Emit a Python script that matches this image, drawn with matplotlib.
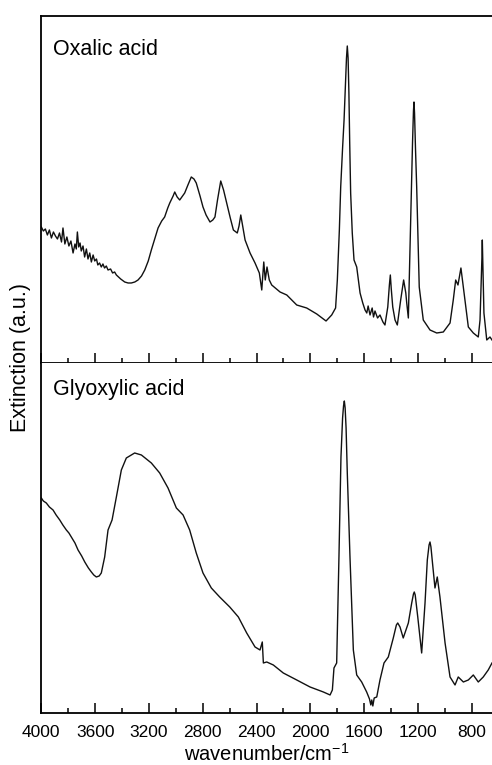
import numpy as np
import matplotlib
matplotlib.use("Agg")
import matplotlib.pyplot as plt
from matplotlib.ticker import MultipleLocator

# spectra (wavenumber in cm-1, extinction in a.u.)
oxalic_wn = [4000, 3985, 3970, 3955, 3940, 3925, 3910, 3895, 3880, 3865, 3850, 3839, 3825, 3810,
             3795, 3780, 3764, 3750, 3740, 3732, 3722, 3712, 3703, 3690, 3678, 3665, 3653, 3640,
             3628, 3615, 3603, 3590, 3580, 3567, 3554, 3542, 3530, 3517, 3504, 3485, 3470, 3455,
             3442, 3410, 3380, 3355, 3331, 3305,
             3281, 3255, 3231, 3205, 3182, 3155, 3132, 3105, 3083, 3060, 3045, 3020, 3008, 2990,
             2971, 2950, 2934, 2910, 2885, 2865, 2848, 2820, 2798, 2775, 2746, 2725, 2709, 2690,
             2666, 2645, 2622, 2595, 2572, 2543, 2530, 2517, 2500, 2485, 2448, 2411, 2379, 2361,
             2346, 2335, 2322, 2305, 2287, 2225, 2175, 2101, 2027, 1952, 1883, 1841, 1812, 1799,
             1784, 1774, 1760, 1749, 1738, 1731, 1725, 1719, 1713, 1707, 1700, 1688, 1675, 1655,
             1630, 1610,
             1593, 1580, 1570, 1556, 1540, 1530, 1519, 1500, 1482, 1460, 1445, 1424, 1412, 1405,
             1398, 1387, 1370, 1353, 1328, 1306, 1290, 1283, 1271, 1254, 1240, 1233, 1229, 1225,
             1218, 1209, 1190, 1160, 1110,
             1060, 1011, 961, 937, 919, 902, 880, 857, 825, 788, 751, 738, 724, 721, 717, 709, 688,
             664, 649]
oxalic_ext = [1.36, 1.32, 1.34, 1.28, 1.33, 1.25, 1.31, 1.27, 1.24, 1.30, 1.21, 1.35, 1.19, 1.26,
              1.17, 1.22, 1.10, 1.19, 1.14, 1.31, 1.16, 1.20, 1.12, 1.17, 1.06, 1.14, 1.04, 1.10,
              1.01, 1.08, 1.02, 1.04, 0.98, 1.00, 0.96, 0.99, 0.95, 0.97, 0.93, 0.94, 0.90, 0.91,
              0.88, 0.84, 0.81, 0.80, 0.80, 0.81,
              0.83, 0.87, 0.93, 1.02, 1.13, 1.25, 1.35, 1.42, 1.46, 1.55, 1.60, 1.67, 1.71, 1.66,
              1.63, 1.67, 1.70, 1.78, 1.86, 1.84, 1.80, 1.67, 1.56, 1.48, 1.41, 1.43, 1.46, 1.63,
              1.82, 1.73, 1.60, 1.45, 1.33, 1.30, 1.37, 1.48, 1.35, 1.23, 1.10, 1.00, 0.90, 0.73,
              1.01, 0.83, 0.96, 0.83, 0.78, 0.71, 0.68, 0.58, 0.55, 0.49, 0.42, 0.48, 0.55, 0.83,
              1.33, 1.76, 2.15, 2.43, 2.80, 3.05, 3.17, 3.05, 2.70, 2.20, 1.70, 1.30, 1.03, 0.96,
              0.70, 0.60,
              0.53, 0.50, 0.57, 0.48, 0.55, 0.46, 0.52, 0.45, 0.48, 0.41, 0.38, 0.56, 0.78, 0.88,
              0.74, 0.56, 0.43, 0.38, 0.63, 0.83, 0.70, 0.60, 0.45, 1.43, 2.20, 2.52, 2.61, 2.50,
              2.15, 1.76, 0.76, 0.43, 0.33,
              0.30, 0.31, 0.40, 0.63, 0.83, 0.78, 0.95, 0.70, 0.36, 0.30, 0.26, 0.43, 1.05, 1.23,
              1.00, 0.50, 0.23, 0.26, 0.23]

glyox_wn = [4000, 3985, 3963, 3940, 3913, 3890, 3863, 3840, 3814, 3795, 3777, 3750, 3727, 3700,
            3677, 3650, 3628, 3610, 3591, 3570, 3554, 3529, 3504, 3474, 3442, 3405, 3368, 3306,
            3256, 3182, 3120, 3058, 2996, 2946, 2897, 2848, 2798, 2736, 2674, 2599, 2535, 2473,
            2411, 2374, 2357, 2349, 2324, 2275, 2201, 2101, 2002, 1903, 1853, 1836, 1824, 1804,
            1787, 1772, 1760, 1753, 1747, 1741, 1734, 1725, 1705, 1680, 1655, 1618, 1581, 1560,
            1550, 1543, 1535, 1525, 1506, 1482,
            1452, 1420, 1383, 1360, 1350, 1333, 1309, 1271, 1246, 1233, 1227, 1220, 1201, 1172,
            1147, 1130, 1117, 1110, 1103, 1090, 1073, 1056, 1036, 998, 961, 924, 900, 862, 825,
            788, 751, 714, 677, 649]
glyox_ext = [2.15, 2.12, 2.10, 2.06, 2.03, 1.98, 1.93, 1.88, 1.83, 1.80, 1.76, 1.70, 1.63, 1.57,
             1.51, 1.45, 1.41, 1.38, 1.36, 1.37, 1.40, 1.56, 1.83, 1.93, 2.16, 2.43, 2.55, 2.60,
             2.58, 2.50, 2.40, 2.25, 2.05, 1.98, 1.83, 1.60, 1.40, 1.25, 1.16, 1.06, 0.96, 0.80,
             0.66, 0.63, 0.71, 0.50, 0.51, 0.48, 0.40, 0.33, 0.26, 0.21, 0.18, 0.23, 0.45, 0.50,
             1.56, 2.56, 2.95, 3.07, 3.12, 3.05, 2.85, 2.40, 1.56, 0.63, 0.38, 0.31, 0.21, 0.14,
             0.08, 0.13, 0.07, 0.15, 0.16, 0.33,
             0.50, 0.56, 0.75, 0.88, 0.90, 0.86, 0.75, 0.90, 1.10, 1.19, 1.21, 1.18, 0.96, 0.60,
             1.10, 1.53, 1.68, 1.71, 1.66, 1.48, 1.25, 1.36, 1.16, 0.70, 0.36, 0.28, 0.36, 0.31,
             0.33, 0.38, 0.31, 0.36, 0.43, 0.50]

plt.rcParams['font.family'] = ['Liberation Sans', 'DejaVu Sans']
plt.rcParams['mathtext.default'] = 'regular'

fig = plt.figure(figsize=(4.92, 7.65), dpi=100)
ax1 = fig.add_axes([0.084, 0.5255, 0.916, 0.4536])
ax2 = fig.add_axes([0.084, 0.068, 0.916, 0.4575])

panels = [(ax1, oxalic_wn, oxalic_ext, 'Oxalic acid', 3.47, 0.888),
          (ax2, glyox_wn, glyox_ext, 'Glyoxylic acid', 3.50, 0.909)]

for ax, wn, ext, name, ytop, ty in panels:
    ax.plot(wn, ext, color='#111111', lw=1.0)
    ax.set_xlim(4000, 649)
    ax.set_ylim(0, ytop)
    ax.set_yticks([])
    ax.xaxis.set_major_locator(MultipleLocator(400))
    ax.xaxis.set_minor_locator(MultipleLocator(200))
    ax.tick_params(axis='x', which='major', direction='in', length=7, width=1.1,
                   labelsize=12.5, pad=8.5, top=False)
    ax.tick_params(axis='x', which='minor', direction='in', length=3.5, width=1.1, top=False)
    ax.spines['right'].set_visible(False)
    for s in ['left', 'top', 'bottom']:
        ax.spines[s].set_linewidth(1.3)
    ax.text(0.027, ty, name, transform=ax.transAxes, fontsize=15.5, va='baseline')

ax1.tick_params(axis='x', labelbottom=False)
ax2.spines['top'].set_visible(False)
ax2.set_xlabel('wavenumber/cm$^{-1}$', fontsize=14.5, labelpad=2)
fig.text(0.041, 0.533, 'Extinction (a.u.)', rotation=90, fontsize=15.5,
         ha='center', va='center')

fig.savefig('out.png', dpi=100)
